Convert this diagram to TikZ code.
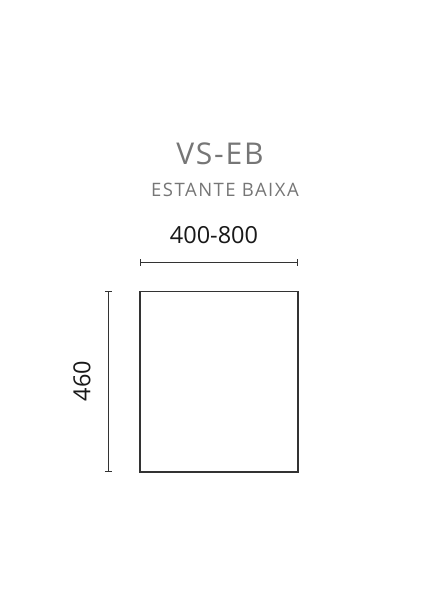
\documentclass[tikz,border=0pt]{standalone}
\usepackage{fontspec}
\setmainfont{Open Sans}
\newfontfamily\titlefont[LetterSpace=6]{Open Sans}
\newfontfamily\subtitlefont[LetterSpace=8]{Open Sans}
\usetikzlibrary{positioning}

\definecolor{titlegrey}{HTML}{767676}
\definecolor{linegrey}{HTML}{333333}

\tikzset{
    dimline/.style={linegrey, line width=0.9pt},
    dimtick/.style={linegrey, line width=0.9pt},
    dimtext/.style={font=\fontsize{23.5}{26}\selectfont, text=black!90, inner sep=0pt}
}

\begin{document}
\begin{tikzpicture}[x=1pt, y=-1pt]

    % Page frame (438 x 615)
    \useasboundingbox[fill=white] (0,0) rectangle (438,615);

    % Title and subtitle
    \node[font=\titlefont\fontsize{30}{34}\selectfont, text=titlegrey, inner sep=0pt] (title) at (220,154) {VS-EB};
    \node[font=\subtitlefont\fontsize{18.5}{22}\selectfont, text=titlegrey, inner sep=0pt] (subtitle) at (225,190) {ESTANTE BAIXA};

    % Corners of the shelf front
    \coordinate (A) at (140,291.5);
    \coordinate (B) at (298,291.5);
    \coordinate (C) at (298,472);
    \coordinate (D) at (140,472);

    % Draw the shelf outline
    \draw[linegrey, line width=1.3pt] (A) -- (B) -- (C) -- (D) -- cycle;

    % Width dimension
    \coordinate (WL) at (140.3,262.3);
    \coordinate (WR) at (297.3,262.3);
    \draw[dimline] (WL) -- (WR);
    \draw[dimtick] ([yshift=-3.5pt]WL) -- ([yshift=3.5pt]WL);
    \draw[dimtick] ([yshift=-3.5pt]WR) -- ([yshift=3.5pt]WR);
    \node[dimtext] (width) at (214,235) {400-800};

    % Height dimension
    \coordinate (HT) at (108.3,291.3);
    \coordinate (HB) at (108.3,471.7);
    \draw[dimline] (HT) -- (HB);
    \draw[dimtick] ([xshift=-3.5pt]HT) -- ([xshift=3.5pt]HT);
    \draw[dimtick] ([xshift=-3.5pt]HB) -- ([xshift=3.5pt]HB);
    \node[dimtext, rotate=90] (height) at (82,381) {460};

\end{tikzpicture}
\end{document}
